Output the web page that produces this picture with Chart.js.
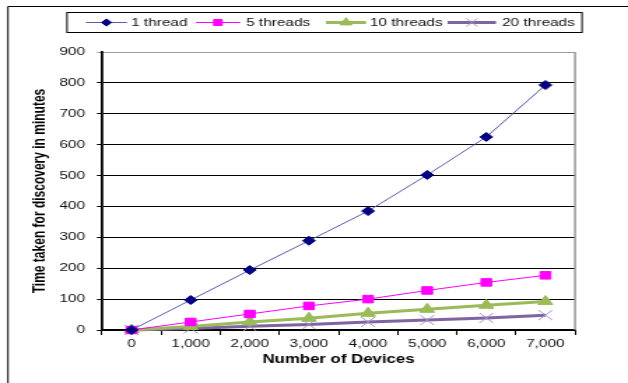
<!DOCTYPE html>
<html>
<head>
<meta charset="utf-8">
<script src="https://cdn.jsdelivr.net/npm/chart.js@4.4.0/dist/chart.umd.min.js"></script>
<style>
    html, body { margin: 0; padding: 0; background: #fff; overflow: hidden; }
    /* the source picture is an Excel chart stretched sideways, so draw narrow and stretch */
    #wrap { width: 449px; height: 383px; transform: scaleX(1.3987); transform-origin: 0 0; }
</style>
</head>
<body>
<div id="wrap"><canvas id="discoveryChart"></canvas></div>
<script>
// Chart data
const deviceCounts = ['0', '1,000', '2,000', '3,000', '4,000', '5,000', '6,000', '7,000'];
const oneThread = [0, 97, 194, 289, 385, 502, 625, 793];
const fiveThreads = [0, 26, 52, 78, 100, 128, 154, 177];
const tenThreads = [0, 11, 26, 38, 54, 67, 80, 92];
const twentyThreads = [0, 5, 12, 18, 26, 32, 39, 48];
const seriesNames = ['1 thread', '5 threads', '10 threads', '20 threads'];
const yMax = 900;
const yStep = 100;

const FONT = "'Liberation Sans', Arial, sans-serif";

/**
 * Outer frame, right plot border and the boxed legend
 */
const frameAndLegend = {
    id: 'frameAndLegend',
    beforeDraw: function(chart) {
        const ctx = chart.ctx;
        ctx.save();
        ctx.fillStyle = '#fff';
        ctx.fillRect(0, 0, chart.width, chart.height);
        ctx.strokeStyle = '#000';
        ctx.lineWidth = 1;
        ctx.beginPath();
        ctx.moveTo(5.7, chart.height);
        ctx.lineTo(5.7, 6.5);
        ctx.lineTo(chart.width, 6.5);
        ctx.stroke();
        ctx.restore();
    },
    afterDraw: function(chart) {
        const ctx = chart.ctx;
        const area = chart.chartArea;
        ctx.save();
        // right border of plot area
        ctx.strokeStyle = '#9a9a9a';
        ctx.lineWidth = 1.5;
        ctx.beginPath();
        ctx.moveTo(area.right, area.top);
        ctx.lineTo(area.right, area.bottom);
        ctx.stroke();

        // legend box
        ctx.strokeStyle = '#000';
        ctx.lineWidth = 1;
        ctx.strokeRect(47.9, 12.5, 368.2, 20);

        const samples = [[61.5, 90.8, 93.7], [140, 171.6, 175.9], [233, 261.7, 264.5], [320, 354.6, 359]];
        const y = 22.5;
        chart.data.datasets.forEach(function(ds, i) {
            const s = samples[i];
            ctx.strokeStyle = ds.borderColor;
            ctx.lineWidth = ds.borderWidth;
            ctx.beginPath();
            ctx.moveTo(s[0], y);
            ctx.lineTo(s[1], y);
            ctx.stroke();
            ctx.fillStyle = ds.pointBackgroundColor;
            ctx.strokeStyle = ds.pointBorderColor;
            ctx.lineWidth = ds.pointBorderWidth;
            Chart.helpers.drawPoint(ctx, {
                pointStyle: ds.pointStyle,
                radius: ds.pointRadius * 0.8,
                rotation: 0,
                borderWidth: ds.pointBorderWidth
            }, (s[0] + s[1]) / 2, y);
            ctx.fillStyle = '#111';
            ctx.font = '11px ' + FONT;
            ctx.textAlign = 'left';
            ctx.textBaseline = 'middle';
            ctx.fillText(ds.label, s[2], y + 0.5);
        });
        ctx.restore();
    }
};

function renderDiscoveryChart() {
    const ctx = document.getElementById('discoveryChart').getContext('2d');

    new Chart(ctx, {
        type: 'line',
        data: {
            labels: deviceCounts,
            datasets: [{
                label: seriesNames[0],
                data: oneThread,
                borderColor: '#5a5aae',
                borderWidth: 1,
                pointStyle: 'rectRot',
                pointRadius: 4.5,
                pointBackgroundColor: '#000080',
                pointBorderColor: '#000080',
                pointBorderWidth: 1
            }, {
                label: seriesNames[1],
                data: fiveThreads,
                borderColor: '#ff00ff',
                borderWidth: 1,
                pointStyle: 'rect',
                pointRadius: 5.3,
                pointBackgroundColor: '#ff00ff',
                pointBorderColor: '#ff00ff',
                pointBorderWidth: 1
            }, {
                label: seriesNames[2],
                data: tenThreads,
                borderColor: '#9bbb59',
                borderWidth: 3,
                pointStyle: 'triangle',
                pointRadius: 6,
                pointBackgroundColor: '#9bbb59',
                pointBorderColor: '#9bbb59',
                pointBorderWidth: 1
            }, {
                label: seriesNames[3],
                data: twentyThreads,
                borderColor: '#8064a2',
                borderWidth: 3,
                pointStyle: 'crossRot',
                pointRadius: 7,
                pointBackgroundColor: '#a592c4',
                pointBorderColor: '#a592c4',
                pointBorderWidth: 1
            }]
        },
        options: {
            responsive: true,
            maintainAspectRatio: false,
            animation: false,
            clip: false,
            layout: {
                padding: { left: 10, top: 52, right: 37.9, bottom: 0 }
            },
            elements: {
                line: { tension: 0 }
            },
            plugins: {
                legend: { display: false },
                tooltip: { enabled: false }
            },
            scales: {
                x: {
                    offset: true,
                    grid: {
                        drawOnChartArea: false,
                        offset: true,
                        tickLength: 5,
                        color: '#000'
                    },
                    border: { color: '#000', width: 1.2 },
                    ticks: {
                        color: '#111',
                        padding: 2,
                        maxRotation: 0,
                        autoSkip: false,
                        font: { family: FONT, size: 11 }
                    },
                    title: {
                        display: true,
                        text: 'Number of Devices',
                        color: '#000',
                        padding: { top: 0, bottom: 15.8 },
                        font: { family: FONT, size: 12, weight: 'bold' }
                    },
                    afterFit: function(scale) { scale.height = 53; }
                },
                y: {
                    min: 0,
                    max: yMax,
                    grid: {
                        tickLength: 3.6,
                        color: function(c) {
                            return c.tick && c.tick.value === yMax ? '#9a9a9a' : '#000';
                        }
                    },
                    border: { color: '#000', width: 1.8 },
                    ticks: {
                        stepSize: yStep,
                        color: '#111',
                        padding: 8.5,
                        font: { family: FONT, size: 11 }
                    },
                    title: {
                        display: true,
                        text: 'Time taken for discovery in minutes',
                        color: '#000',
                        padding: { top: 11.4, bottom: 0 },
                        font: { family: FONT, size: 12, weight: 'bold' }
                    },
                    afterFit: function(scale) { scale.width = 62.9; }
                }
            }
        },
        plugins: [frameAndLegend]
    });
}

renderDiscoveryChart();
</script>
</body>
</html>
